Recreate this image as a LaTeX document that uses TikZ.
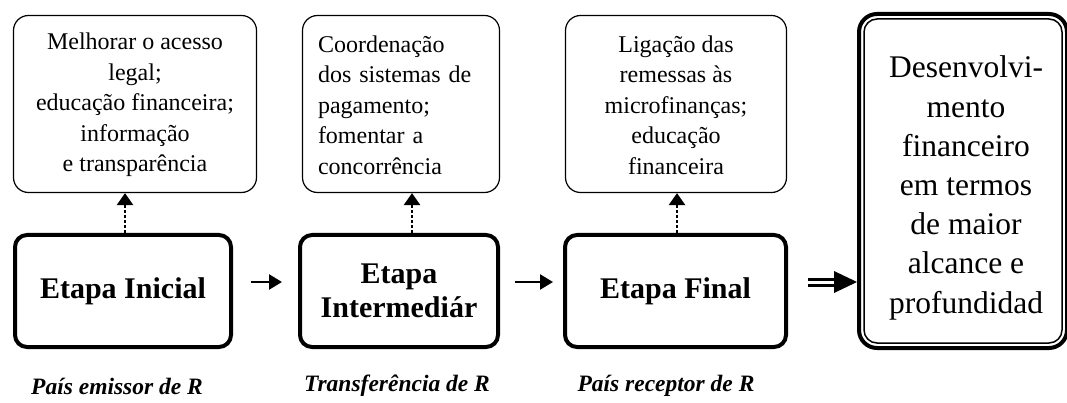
\documentclass[tikz,border=0pt]{standalone}
\usepackage{fontspec}
\setmainfont{Liberation Serif}
\usetikzlibrary{arrows.meta}
\tikzset{
  topbox/.style={draw, line width=1.2pt, rounded corners=15pt, minimum height=177pt, inner sep=0pt},
  toptext/.style={inner sep=0pt, font=\fontsize{24}{30.5}\selectfont},
  stagebox/.style={draw, line width=4pt, rounded corners=12pt, minimum height=112pt, inner sep=0pt,
    font=\fontsize{30}{34}\selectfont\bfseries, align=center},
  caption/.style={font=\fontsize{23.5}{26}\selectfont\bfseries\itshape, inner sep=0pt},
  dotarrow/.style={line width=2.5pt, dash pattern=on 3pt off 2pt, -{Triangle[length=12pt,width=16pt]}},
  solidarrow/.style={line width=2.5pt, -{Triangle[length=13pt,width=15pt]}},
}
\begin{document}
\begin{tikzpicture}[x=1pt,y=-1pt]
\useasboundingbox (0,0) rectangle (1067,403);
% top boxes
\node[topbox, minimum width=243pt] (t1) at (135,104) {};
\node[toptext, align=center] (t1t) at ([yshift=-1pt]t1.center)
  {Melhorar o acesso\\legal;\\educação financeira;\\informação\\e transparência};
\node[topbox, minimum width=197pt] (t2) at (401,104) {};
\node[toptext, text width=166pt, align=left] (t2t) at ([yshift=-1pt]t2.center)
  {Coordenação\\dos sistemas de\\pagamento;\\fomentar a\\concorrência};
\node[topbox, minimum width=221pt] (t3) at (676,104) {};
\node[toptext, align=center] (t3t) at ([yshift=-1pt]t3.center)
  {Ligação das\\remessas às\\microfinanças;\\educação\\financeira};
% stage boxes
\node[stagebox, minimum width=216pt] (e1) at (123,291) {Etapa Inicial};
\node[stagebox, minimum width=198pt] (e2) at (399,291) {Etapa\\Intermediár};
\node[stagebox, minimum width=221pt] (e3) at (675.5,291) {Etapa Final};
% final box
\node[draw, line width=4pt, rounded corners=18pt, minimum width=208pt, minimum height=334pt,
  inner sep=0pt] (fin) at (963,181) {};
\draw[line width=1.5pt, rounded corners=13pt] ([shift={(7pt,7pt)}]fin.south west) rectangle ([shift={(-7pt,-7pt)}]fin.north east);
\node[inner sep=0pt, align=center, font=\fontsize{31.5}{39.2}\selectfont] (fint) at ([xshift=3pt,yshift=-7pt]fin.center)
  {Desenvolvi-\\mento\\financeiro\\em termos\\de maior\\alcance e\\profundidad};
% captions
\node[caption] (c1) at (117,386) {País emissor de R};
\node[caption] (c2) at (397,386) {Transferência de R};
\node[caption] (c3) at (666,386) {País receptor de R};
% dotted arrows
\draw[dotarrow] ([xshift=2pt]e1.north) -- ([xshift=2pt]e1.north |- t1.south);
\draw[dotarrow] ([xshift=13pt]e2.north) -- ([xshift=13pt]e2.north |- t2.south);
\draw[dotarrow] ([xshift=1.5pt]e3.north) -- ([xshift=1.5pt]e3.north |- t3.south);
% horizontal arrows
\draw[solidarrow, shorten <=18pt, shorten >=16pt] ([yshift=9pt]e1.east) -- ([yshift=9pt]e2.west);
\draw[solidarrow, shorten <=15pt, shorten >=10pt] ([yshift=9pt]e2.east) -- ([yshift=9pt]e3.west);
\coordinate (tip) at ([yshift=9pt]fin.west |- e3.east);
\draw[line width=3pt, double distance=3pt, shorten <=20pt, shorten >=20pt] ([yshift=9pt]e3.east) -- (tip);
\fill (tip) -- ([xshift=-23pt,yshift=11pt]tip) -- ([xshift=-23pt,yshift=-11pt]tip) -- cycle;
\end{tikzpicture}
\end{document}
